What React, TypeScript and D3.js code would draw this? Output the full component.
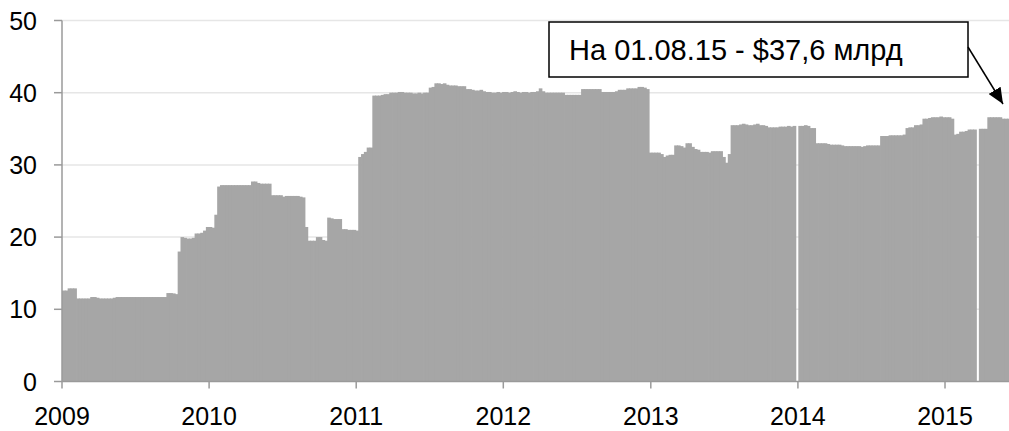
import React from 'react';
import * as d3 from 'd3';

// weekly reserves, $ bn, first week starts 01.01.2009 (null = no data that week)
const startDate = new Date(2009, 0, 1);

const weeks2009 = [
  12.6, 12.6, 12.9, 12.9, 12.9, 11.5, 11.5, 11.5, 11.5, 11.5,
  11.7, 11.7, 11.6, 11.5, 11.5, 11.5, 11.5, 11.5, 11.6,
  11.7, 11.7, 11.7, 11.7, 11.7, 11.7, 11.7, 11.7, 11.7, 11.7, 11.7, 11.7, 11.7, 11.7, 11.7, 11.7, 11.7, 11.7,
  12.25, 12.25, 12.2, 12.1, 18.0, 20.0, 19.9, 19.8, 19.8, 19.9,
  20.5, 20.5, 20.6, 20.9, 21.4, 21.4,
];
const weeks2010 = [
  21.3, 23.1, 27.0, 27.2, 27.2, 27.2, 27.2, 27.2, 27.2, 27.2, 27.2, 27.2, 27.2, 27.2,
  27.7, 27.7, 27.5, 27.4, 27.4, 27.4, 27.4, 25.8, 25.8, 25.8, 25.8,
  25.6, 25.7, 25.7, 25.7, 25.7, 25.7, 25.6, 25.5, 21.4, 19.5, 19.5, 19.5,
  20.0, 20.0, 19.6, 19.5, 22.7, 22.6, 22.5, 22.5, 22.5,
  21.1, 21.1, 21.0, 21.0, 21.0, 20.9,
];
const weeks2011 = [
  31.1, 31.5, 31.8, 32.4, 32.4, 39.6, 39.6, 39.6, 39.7, 39.8, 39.8,
  40.0, 40.0, 40.0, 40.1, 40.1, 40.0, 40.0, 40.0, 39.9, 39.9, 40.0, 39.9, 40.0, 40.0,
  40.7, 40.8, 41.3, 41.3, 41.2, 41.3, 41.1, 41.0, 41.0, 41.0, 40.9, 40.9, 40.9,
  40.5, 40.5, 40.4, 40.3, 40.3, 40.4, 40.2, 40.1, 40.1, 40.0, 40.0, 40.1, 40.0, 40.1,
];
const weeks2012 = [
  40.1, 40.0, 40.1, 40.2, 40.1, 40.0, 40.1, 40.1, 40.0, 40.1, 40.1, 40.2, 40.6, 40.2,
  40.0, 40.0, 40.0, 40.0, 40.0, 40.0, 40.0, 39.7, 39.7, 39.7, 39.7, 39.7, 39.7,
  40.5, 40.5, 40.5, 40.5, 40.5, 40.5, 40.5, 40.1, 40.1, 40.1, 40.1, 40.1, 40.2,
  40.4, 40.4, 40.4, 40.6, 40.6, 40.6, 40.6, 40.8, 40.8, 40.7, 40.5, 31.7,
];
const weeks2013 = [
  31.7, 31.7, 31.7, 31.5, 31.1, 31.3, 31.4, 31.4, 32.7, 32.7, 32.6, 32.4,
  33.0, 33.0, 32.5, 32.2, 32.1, 31.8, 31.8, 31.8, 31.7, 31.9, 31.9, 31.9, 31.9,
  31.1, 30.3, 31.5, 35.5, 35.5, 35.5, 35.6, 35.7, 35.6, 35.5, 35.5, 35.6, 35.7, 35.5, 35.5, 35.4,
  35.2, 35.2, 35.2, 35.2, 35.3, 35.3, 35.3, 35.4, 35.3, 35.4, null,
];
const weeks2014 = [
  35.4, 35.4, 35.5, 35.4, 35.1, 35.1, 33.0, 33.0, 33.0, 33.0,
  32.9, 32.8, 32.8, 32.8, 32.8, 32.7, 32.6, 32.6, 32.6, 32.6, 32.6, 32.6, 32.5, 32.6,
  32.7, 32.7, 32.7, 32.7, 32.7, 34.0, 34.0, 34.0, 34.1, 34.1, 34.1, 34.1, 34.1, 34.2,
  35.1, 35.2, 35.2, 35.5, 35.5, 35.6, 36.4, 36.4, 36.5, 36.6, 36.6, 36.6, 36.7, 36.6,
];
const weeks2015 = [
  36.6, 36.6, 36.4, 34.2, 34.3, 34.6, 34.6, 34.7, 34.9, 34.9, 34.9, null,
  35.0, 35.0, 35.0, 36.6, 36.6, 36.6, 36.6, 36.6, 36.4, 36.4, 36.4,
];

const yTicks = [0, 10, 20, 30, 40, 50];
const yearTicks = [2009, 2010, 2011, 2012, 2013, 2014, 2015];
const noteText = 'На 01.08.15 - $37,6 млрд';

const width = 1009;
const height = 431;
const font = '"Liberation Sans", Arial, sans-serif';

export default function App() {
  const values = [...weeks2009, ...weeks2010, ...weeks2011, ...weeks2012, ...weeks2013, ...weeks2014, ...weeks2015];
  const data = values.map((v, i) => ({
    date: d3.timeDay.offset(startDate, 7 * i),
    next: d3.timeDay.offset(startDate, 7 * (i + 1)),
    value: v,
  }));

  const x = d3.scaleTime()
    .domain([startDate, d3.timeDay.offset(startDate, 7 * values.length)])
    .range([62, 1009.9]);
  const y = d3.scaleLinear().domain([0, 50]).range([381.5, 20.5]);

  return (
    <svg width={width} height={height} style={{ position: 'absolute', left: 0, top: 0, background: '#fff' }}>
      {/* gridlines */}
      {yTicks.filter(t => t > 0).map(t => (
        <line key={t} x1={62} x2={width} y1={y(t)} y2={y(t)} stroke="#e6e6e6" strokeWidth={1.5} />
      ))}

      {/* weekly bars */}
      {data.filter(d => d.value != null).map((d, i) => (
        <rect
          key={i}
          x={x(d.date)}
          y={y(d.value as number)}
          width={x(d.next) - x(d.date) + 0.8}
          height={y(0) - y(d.value as number)}
          fill="#a6a6a6"
        />
      ))}

      {/* y axis */}
      <line x1={62} x2={62} y1={y(50)} y2={y(0)} stroke="#9a9a9a" strokeWidth={1.5} />
      {yTicks.map(t => (
        <g key={t}>
          <line x1={54} x2={62} y1={y(t)} y2={y(t)} stroke="#9a9a9a" strokeWidth={1.5} />
          <text x={37} y={y(t) + 9} textAnchor="end" fontSize={25} fontFamily={font} fill="#000">{t}</text>
        </g>
      ))}

      {/* x axis */}
      <line x1={62} x2={width} y1={y(0)} y2={y(0)} stroke="#9a9a9a" strokeWidth={1.5} />
      {yearTicks.map(yr => {
        const px = x(new Date(yr, 0, 1));
        return (
          <g key={yr}>
            <line x1={px} x2={px} y1={y(0)} y2={y(0) + 7} stroke="#9a9a9a" strokeWidth={1.5} />
            <text x={px} y={425} textAnchor="middle" fontSize={25} fontFamily={font} fill="#000">{yr}</text>
          </g>
        );
      })}

      {/* annotation */}
      <defs>
        <marker id="arrow" viewBox="0 0 16 14" refX={16} refY={7} markerUnits="userSpaceOnUse"
          markerWidth={16} markerHeight={14} orient="auto">
          <path d="M0,0 L16,7 L0,14 z" fill="#000" />
        </marker>
      </defs>
      <rect x={549} y={22} width={419} height={55} fill="#fff" stroke="#000" strokeWidth={1.5} />
      <text x={569} y={60} fontSize={29} fontFamily={font} fill="#000">{noteText}</text>
      <line x1={968} y1={47} x2={1003} y2={104} stroke="#000" strokeWidth={1.5} markerEnd="url(#arrow)" />
    </svg>
  );
}
